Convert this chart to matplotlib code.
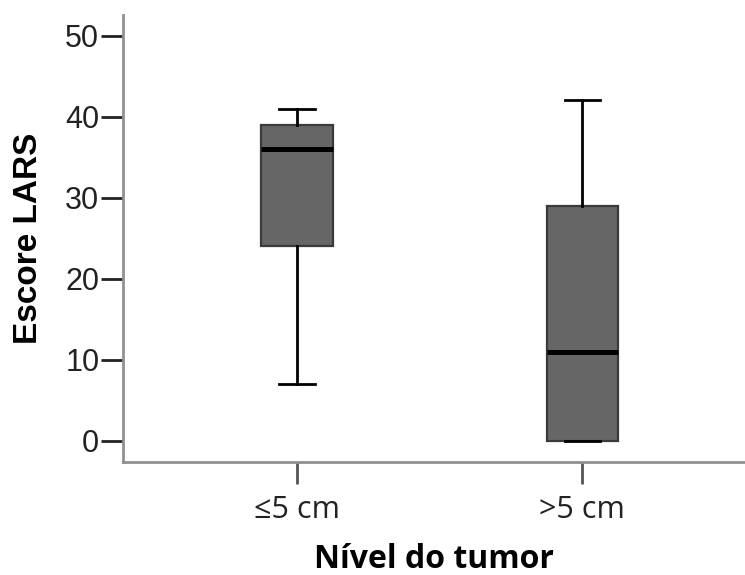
import matplotlib
matplotlib.use("Agg")
import matplotlib.pyplot as plt

categories = ["≤5 cm", ">5 cm"]
whisker_low = [7, 0]
q1 = [24, 0]
median = [36, 11]
q3 = [39, 29]
whisker_high = [41, 42]
y_ticks = [0, 10, 20, 30, 40, 50]

fig = plt.figure(figsize=(7.45, 5.75), dpi=100)
ax = fig.add_axes([0.165, 0.1965, 0.835, 0.7775])

stats = []
for i, c in enumerate(categories):
    stats.append(dict(label=c, whislo=whisker_low[i], q1=q1[i], med=median[i],
                      q3=q3[i], whishi=whisker_high[i], fliers=[]))

ax.bxp(stats, positions=[1, 2], widths=0.25, showfliers=False, patch_artist=True,
       boxprops=dict(facecolor="#666666", edgecolor="#3a3a3a", linewidth=1.6),
       medianprops=dict(color="black", linewidth=3.6, solid_capstyle="butt"),
       whiskerprops=dict(color="black", linewidth=2.0),
       capprops=dict(color="black", linewidth=2.0),
       capwidths=0.125)

ax.set_xlim(0.39, 2.57)
ax.set_ylim(-2.63, 52.56)
ax.set_yticks(y_ticks)
ax.set_xticks([1, 2])

ax.spines["top"].set_visible(False)
ax.spines["right"].set_visible(False)
for s in ("left", "bottom"):
    ax.spines[s].set_color("#909090")
    ax.spines[s].set_linewidth(2.0)

ax.tick_params(axis="y", length=15.5, width=2.0, color="#222222", labelsize=22, pad=1.5)
ax.tick_params(axis="x", length=15.5, width=2.0, color="#555555", labelsize=22, pad=8)
for lab in ax.get_yticklabels():
    lab.set_family("Liberation Sans")
    lab.set_color("#222222")
ax.set_xticklabels(categories, family=["Open Sans", "DejaVu Sans"], color="#222222")

ax.set_ylabel("Escore LARS", family="Liberation Sans", fontweight="bold", fontsize=24, labelpad=15)
ax.set_xlabel("Nível do tumor", family="Open Sans", fontweight="bold", fontsize=23, labelpad=13)

fig.savefig("out.png", dpi=100)
